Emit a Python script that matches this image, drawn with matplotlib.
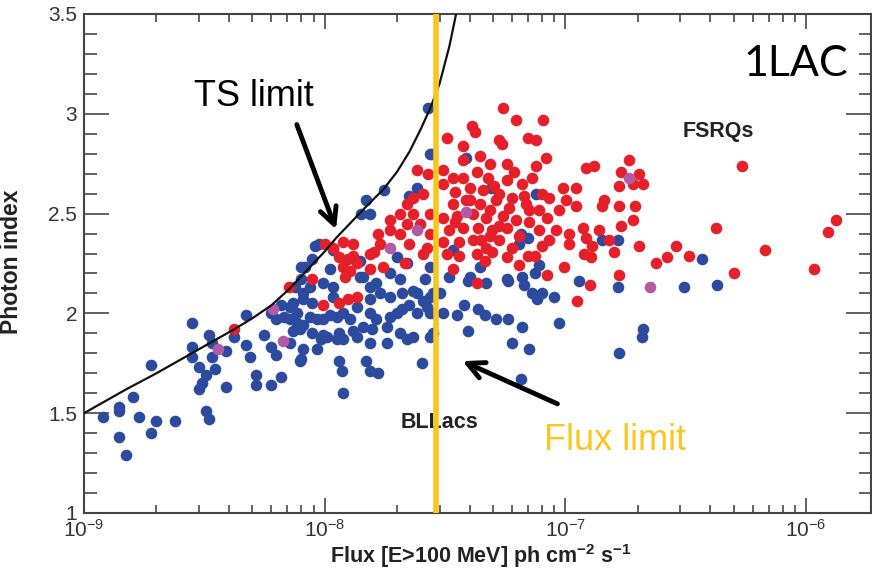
import matplotlib
matplotlib.use("Agg")
import matplotlib.pyplot as plt
from matplotlib.ticker import MultipleLocator, LogLocator, FixedLocator

plt.rcParams['font.family'] = ['Liberation Sans', 'DejaVu Sans']
plt.rcParams['mathtext.fontset'] = 'custom'
plt.rcParams['mathtext.rm'] = 'Liberation Sans'
plt.rcParams['mathtext.bf'] = 'Liberation Sans:bold'

# fluxes in units of 1e-8 ph cm-2 s-1
bll_flux = [0.12, 0.14, 0.14, 0.16, 0.17, 0.20, 0.19, 0.14, 0.15, 0.24, 0.19, 0.28, 0.28, 0.28, 0.30,
            0.33, 0.34, 0.35, 0.32, 0.31, 0.30, 0.39, 0.34, 0.39, 0.32, 0.33, 0.42, 0.47, 0.47, 0.49,
            0.52, 0.52, 0.60, 0.66, 0.60, 0.63, 0.56, 0.63, 0.60, 0.68, 0.72, 0.77, 0.80, 0.72, 0.80,
            1.42, 1.54, 2.43, 0.91, 0.83, 0.89, 1.05, 1.40, 0.75, 0.87, 0.98, 1.08, 1.44, 1.64, 1.86,
            2.05, 2.19, 1.99, 2.60, 0.74, 0.81, 0.89, 1.19, 1.36, 1.54, 1.69, 1.86, 2.10, 2.41, 2.73,
            0.77, 0.87, 0.98, 1.12, 1.27, 1.44, 1.64, 1.86, 2.10, 2.41, 2.65, 0.79, 0.89, 1.02, 1.15,
            1.36, 1.58, 1.81, 2.05, 2.32, 2.73, 0.81, 0.93, 1.19, 1.54, 1.81, 2.19, 0.79, 1.15, 1.18,
            1.49, 1.54, 1.66, 2.53, 1.19, 0.97, 1.49, 1.77, 2.25, 0.95, 1.08, 0.80, 2.68, 2.73,
            0.81, 0.66, 1.08, 1.40, 1.54, 2.32, 2.73, 0.72, 0.81, 0.93, 1.05, 1.54, 1.99, 2.25, 2.55,
            2.73, 0.74, 0.98, 1.12, 1.31,
            3.88, 4.92, 7.58, 6.57, 6.97, 6.44, 3.40, 2.78,
            14.2, 16.6, 37.0, 11.4, 16.6, 31.2, 42.8, 5.70, 4.00, 3.30,
            4.40, 3.93, 4.69, 5.75, 6.60, 6.76, 7.45, 7.80, 7.24, 8.03, 7.65, 8.99, 3.00, 3.80, 3.09,
            3.53, 4.32, 4.62, 5.17, 5.80, 6.60, 3.93, 6.03, 7.09, 9.45, 6.57, 2.81, 2.81, 2.81,
            16.7, 21.0, 20.8]
bll_index = [1.48, 1.53, 1.51, 1.58, 1.48, 1.46, 1.40, 1.38, 1.29, 1.46, 1.74, 1.95, 1.83, 1.78, 1.73,
             1.89, 1.85, 1.72, 1.69, 1.65, 1.62, 1.63, 1.78, 1.81, 1.51, 1.47, 1.88, 1.99, 1.84, 1.78,
             1.69, 1.64, 1.64, 1.68, 1.83, 1.79, 1.89, 1.97, 2.00, 1.98, 2.03, 1.95, 1.77, 1.85, 2.23,
             2.50, 2.50, 2.63, 2.34, 2.23, 2.27, 2.22, 2.26, 2.13, 2.13, 2.15, 2.13, 2.18, 2.15, 2.20,
             2.17, 2.25, 2.28, 2.17, 2.05, 2.07, 2.05, 2.00, 2.03, 2.07, 2.10, 2.08, 2.10, 2.10, 2.08,
             2.00, 1.98, 1.97, 1.98, 1.97, 1.93, 1.97, 1.98, 2.02, 2.00, 2.03, 1.92, 1.90, 1.88, 1.90,
             1.88, 1.92, 1.93, 1.90, 1.88, 1.88, 1.82, 1.82, 1.87, 1.85, 1.85, 1.87, 1.76, 1.76, 1.71,
             1.76, 1.71, 1.70, 1.75, 1.60, 1.87, 2.57, 2.62, 2.59, 2.35, 2.32, 2.17, 3.03, 2.80,
             2.10, 2.04, 2.08, 2.18, 2.13, 2.11, 2.23, 1.97, 1.94, 1.97, 1.99, 2.00, 2.00, 2.04, 2.06,
             2.00, 1.91, 1.89, 1.87, 1.91,
             2.78, 2.63, 2.60, 2.40, 2.38, 2.35, 2.32, 2.80,
             2.37, 2.37, 2.27, 2.16, 2.13, 2.13, 2.14, 2.17, 2.18, 2.18,
             2.23, 2.16, 2.15, 2.16, 2.18, 2.14, 2.20, 2.24, 2.10, 2.10, 2.07, 2.08, 2.10, 2.04, 2.00,
             1.99, 2.02, 1.99, 1.97, 1.97, 1.93, 1.91, 1.85, 1.82, 1.95, 1.67, 2.10, 2.00, 1.90,
             1.80, 1.92, 1.88]

fsrq_flux = [0.42, 0.71, 1.00, 1.08, 1.19, 1.31, 1.15, 1.25, 1.36, 1.19, 1.27, 1.54, 1.74, 1.61, 1.69,
             1.66, 1.86, 1.86, 2.05, 2.19, 2.32, 2.55, 2.73, 2.48, 2.19, 2.05, 2.25, 2.15, 2.55, 2.65,
             2.73, 0.98, 1.15, 1.25, 1.36, 0.89, 2.68, 2.41, 2.32, 1.22, 1.31, 1.54,
             5.49, 6.25, 8.10, 4.08, 4.20, 3.21, 5.32, 5.43, 7.00, 7.52, 8.27, 4.40, 3.74, 4.84, 5.70,
             6.14, 7.58, 7.30, 3.09, 3.40, 3.74, 4.28, 4.75, 5.70, 6.60, 3.09, 4.00, 4.53, 5.32, 6.03,
             8.03, 8.59, 9.74, 11.1, 10.1, 11.1, 3.40, 3.88, 4.40, 5.17, 5.86, 6.83, 7.80, 9.45, 3.09,
             3.53, 4.12, 4.69, 5.49, 6.25, 7.09, 8.35, 9.14, 10.4, 11.8, 3.30, 3.74, 4.32, 4.98, 5.70,
             7.80, 8.59, 3.09, 3.63, 4.12, 4.69, 5.32, 6.03, 8.03, 10.4, 3.21, 4.28, 4.98, 5.70, 6.97,
             12.2, 3.47, 5.05, 6.76, 3.63, 4.62, 6.44, 7.45, 4.84, 6.44, 7.09, 3.47, 4.48, 5.32, 4.00,
             4.84, 3.74,
             13.1, 18.4, 17.0, 20.3, 21.0, 16.7, 19.1, 14.5, 14.2, 16.7, 19.5, 19.1, 17.0, 13.8, 12.2,
             15.2, 15.9, 12.9, 11.9, 12.8, 20.3, 28.7, 26.5, 23.8, 32.7, 42.3, 50.0, 67.6, 108, 123,
             133, 54.4, 16.7, 12.6, 9.9,
             3.40, 4.28, 8.35, 11.2]
fsrq_index = [1.92, 2.13, 2.35, 2.33, 2.36, 2.35, 2.28, 2.27, 2.25, 2.23, 2.21, 2.22, 2.23, 2.31, 2.35,
              2.40, 2.42, 2.47, 2.50, 2.55, 2.58, 2.60, 2.50, 2.45, 2.45, 2.40, 2.35, 2.25, 2.30, 2.33,
              2.40, 2.04, 2.05, 2.07, 2.08, 2.17, 2.70, 2.72, 2.50, 2.18, 2.29, 2.30,
              3.03, 2.97, 2.97, 2.94, 2.91, 2.88, 2.87, 2.85, 2.88, 2.87, 2.78, 2.79, 2.77, 2.75, 2.75,
              2.71, 2.74, 2.68, 2.72, 2.68, 2.68, 2.71, 2.68, 2.67, 2.65, 2.65, 2.63, 2.62, 2.60, 2.58,
              2.60, 2.58, 2.63, 2.63, 2.57, 2.54, 2.55, 2.57, 2.55, 2.57, 2.53, 2.55, 2.52, 2.52, 2.48,
              2.49, 2.50, 2.48, 2.49, 2.47, 2.46, 2.48, 2.42, 2.40, 2.43, 2.42, 2.43, 2.43, 2.42, 2.43,
              2.42, 2.37, 2.36, 2.36, 2.37, 2.33, 2.37, 2.33, 2.34, 2.35, 2.30, 2.30, 2.31, 2.28, 2.29,
              2.73, 2.61, 2.64, 2.59, 2.29, 2.26, 2.24, 2.29, 2.39, 2.39, 2.52, 2.46, 2.37, 2.44, 2.57,
              2.52, 2.84,
              2.74, 2.77, 2.71, 2.70, 2.65, 2.64, 2.65, 2.57, 2.54, 2.54, 2.54, 2.47, 2.44, 2.42, 2.38,
              2.37, 2.31, 2.34, 2.30, 2.28, 2.34, 2.34, 2.28, 2.25, 2.29, 2.43, 2.20, 2.32, 2.22, 2.41,
              2.47, 2.74, 2.19, 2.14, 2.23,
              2.22, 2.15, 2.19, 2.06]

# sources of uncertain class (purple)
other_flux = [0.36, 0.61, 0.67, 2.41, 1.86, 3.88, 18.4, 22.5]
other_index = [1.82, 2.02, 1.86, 2.42, 2.33, 2.51, 2.68, 2.13]

# TS = 25 detection limit
ts_flux = [0.10, 0.15, 0.20, 0.30, 0.42, 0.50, 0.60, 0.71, 0.85, 1.00, 1.12, 1.50, 1.75, 2.00, 2.25,
           2.50, 2.75, 3.00, 3.30, 3.60]
ts_index = [1.50, 1.62, 1.70, 1.82, 1.92, 1.975, 2.04, 2.12, 2.22, 2.31, 2.38, 2.54, 2.62, 2.71, 2.81,
            2.92, 3.03, 3.15, 3.34, 3.56]

flux_decades = [1e-9, 1e-8, 1e-7, 1e-6]
flux_limit = 2.9e-8
scale = 1e-8

fig = plt.figure(figsize=(8.72, 5.71), dpi=100)
ax = fig.add_axes([0.0963, 0.1016, 0.9031, 0.8739])

dot = 70
ax.scatter([f * scale for f in bll_flux], bll_index, s=dot, color='#2c4b9e', linewidths=0, zorder=2)
ax.scatter([f * scale for f in fsrq_flux], fsrq_index, s=dot, color='#e5202b', linewidths=0, zorder=3)
ax.scatter([f * scale for f in other_flux], other_index, s=dot, color='#b35aa6', linewidths=0, zorder=4)
ax.plot([f * scale for f in ts_flux], ts_index, color='#111111', lw=1.6, zorder=5)
ax.axvline(flux_limit, color='#f8c620', lw=4, zorder=6)

ax.set_xscale('log')
ax.set_xlim(1e-9, 1.87e-6)
ax.set_ylim(1, 3.5)
ax.yaxis.set_major_locator(MultipleLocator(0.5))
ax.yaxis.set_minor_locator(MultipleLocator(0.1))
ax.xaxis.set_major_locator(FixedLocator(flux_decades))
ax.xaxis.set_minor_locator(LogLocator(base=10, subs=range(2, 10), numticks=20))
ax.yaxis.set_major_formatter(plt.FuncFormatter(lambda v, p: f"{v:g}"))

ax.tick_params(which='both', direction='in', top=True, right=True, color='#555555', width=1.3,
               labelcolor='#333333')
ax.tick_params(axis='y', which='major', length=18, pad=5, labelsize=15)
ax.tick_params(axis='y', which='minor', length=9)
ax.tick_params(axis='x', which='major', length=11, pad=4.5, labelsize=15)
ax.tick_params(axis='x', which='minor', length=5.5)
for sp in ax.spines.values():
    sp.set_color('#444444')
    sp.set_linewidth(1.5)

ax.set_ylabel('Photon index', fontsize=16.5, fontweight='bold', color='#222222')
ax.yaxis.set_label_coords(-0.0775, 0.503)
ax.set_xlabel(r'Flux [E>100 MeV] ph cm$^{\mathbf{-2}}$ s$^{\mathbf{-1}}$', fontsize=15.5,
              fontweight='bold', color='#222222', va='baseline')
ax.xaxis.set_label_coords(0.504, -0.100)

ax.text(0.805, 0.7655, 'FSRQs', transform=ax.transAxes, fontsize=15.5, fontweight='bold',
        color='#222222', ha='center', va='center')
ax.text(0.452, 0.182, 'BLLacs', transform=ax.transAxes, fontsize=15.5, fontweight='bold',
        color='#222222', ha='center', va='center')
ax.text(0.970, 0.900, '1LAC', transform=ax.transAxes, fontsize=31, family=['Lato', 'DejaVu Sans'],
        color='black', ha='right', va='center', zorder=7)
ax.text(0.216, 0.834, 'TS limit', transform=ax.transAxes, fontsize=26, color='black',
        ha='center', va='center', zorder=7)
ax.text(0.674, 0.146, 'Flux limit', transform=ax.transAxes, fontsize=26, color='#f8c620',
        ha='center', va='center', zorder=7)

arrow = dict(arrowstyle='->', lw=3.5, color='black', mutation_scale=30)
ax.annotate('', xy=(0.3213, 0.5631), xytext=(0.269, 0.7836), xycoords='axes fraction',
            arrowprops=arrow, zorder=7)
ax.annotate('', xy=(0.4775, 0.3066), xytext=(0.6044, 0.2164), xycoords='axes fraction',
            arrowprops=arrow, zorder=7)

fig.savefig('out.png', dpi=100)
